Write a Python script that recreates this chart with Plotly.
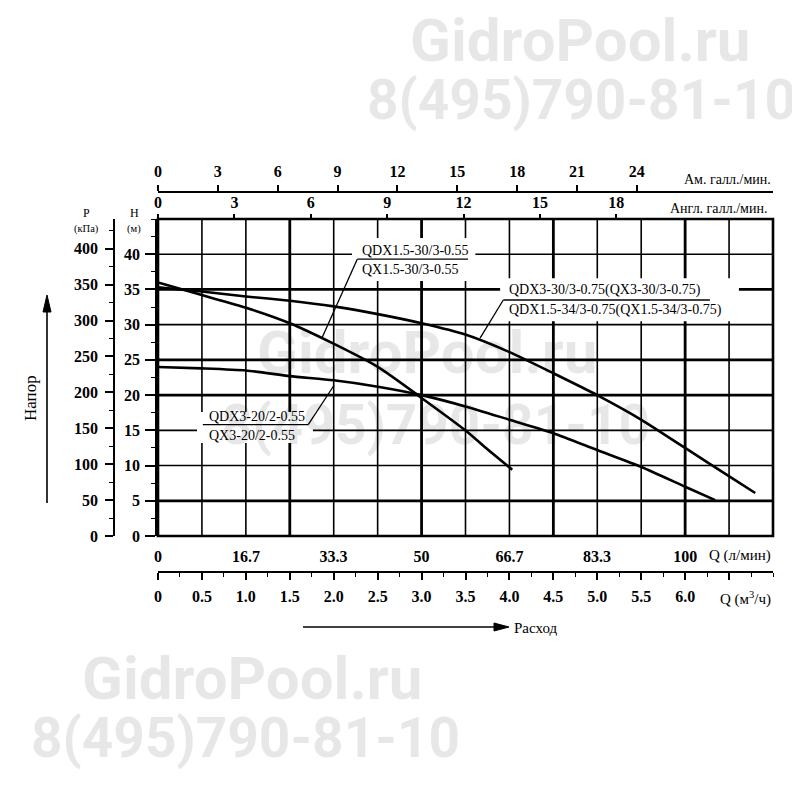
import plotly.graph_objects as go

# ---------------- data ----------------
# flow Q in l/min, head H in m
q_a = [0, 8.3, 16.7, 25, 33.3, 41.7, 50, 58.3, 62.5, 67.2]
h_a = [36.0, 34.2, 32.4, 30.2, 27.3, 24.0, 19.6, 15.0, 12.3, 9.4]
name_a = ["QDX1.5-30/3-0.55", "QX1.5-30/3-0.55"]

q_b = [0, 8.3, 16.7, 25, 33.3, 41.7, 50, 58.3, 66.7, 75, 83.3, 91.7, 100, 108.3, 113.3]
h_b = [35.3, 34.7, 34.0, 33.4, 32.6, 31.5, 30.2, 28.6, 26.1, 23.1, 20.0, 16.5, 12.5, 8.5, 6.1]
name_b = ["QDX3-30/3-0.75(QX3-30/3-0.75)", "QDX1.5-34/3-0.75(QX1.5-34/3-0.75)"]

q_c = [0, 8.3, 16.7, 25, 33.3, 41.7, 50, 58.3, 66.7, 75, 83.3, 91.7, 100, 105.7]
h_c = [24.0, 23.8, 23.5, 22.7, 22.1, 21.2, 20.0, 18.4, 16.5, 14.6, 12.2, 9.8, 7.0, 5.1]
name_c = ["QDX3-20/2-0.55", "QX3-20/2-0.55"]

lpm_ticks = [0, 16.7, 33.3, 50, 66.7, 83.3, 100]
lpm_labels = ["0", "16.7", "33.3", "50", "66.7", "83.3", "100"]
m3h_ticks = [0, 0.5, 1.0, 1.5, 2.0, 2.5, 3.0, 3.5, 4.0, 4.5, 5.0, 5.5, 6.0, 6.5]
m3h_labels = ["0", "0.5", "1.0", "1.5", "2.0", "2.5", "3.0", "3.5", "4.0", "4.5",
              "5.0", "5.5", "6.0", ""]
us_ticks = [0, 3, 6, 9, 12, 15, 18, 21, 24]
imp_ticks = [0, 3, 6, 9, 12, 15, 18]
h_ticks = [0, 5, 10, 15, 20, 25, 30, 35, 40]
p_ticks = [0, 50, 100, 150, 200, 250, 300, 350, 400]

Q_MAX_M3H = 7.0
LPM_PER_M3H = 1000 / 60
Q_MAX = Q_MAX_M3H * LPM_PER_M3H
H_MAX = 45
KPA_PER_M = 9.81
LPM_PER_USGAL = 3.785
LPM_PER_IMPGAL = 4.83

# ---------------- geometry helpers (page pixels -> paper) ----------------
OFF = 8  # page body margin
PL, PR, PT, PB = 100, 773, 150, 610   # in page pixels


def px(x):
    return (x - PL) / (PR - PL)


def py(y):
    return (PB - y) / (PB - PT)


SERIF = "Liberation Serif, Times New Roman, serif"
TICKFONT = dict(family=SERIF, size=16, color="black", weight="bold")
LBLFONT = dict(family=SERIF, size=14, color="black")

fig = go.Figure()
for q, h in [(q_a, h_a), (q_b, h_b), (q_c, h_c)]:
    fig.add_trace(go.Scatter(x=q, y=h, mode="lines",
                             line=dict(color="black", width=2.6, shape="spline", smoothing=0.6),
                             hoverinfo="skip", showlegend=False))

# invisible anchors so every extra axis is drawn
for xa, ya in [("x2", "y"), ("x3", "y"), ("x4", "y"), ("x", "y2")]:
    fig.add_trace(go.Scatter(x=[0], y=[0], xaxis=xa, yaxis=ya, mode="markers",
                             marker=dict(opacity=0), hoverinfo="skip", showlegend=False))

xd0 = px(158)
yd0, yd1 = py(536), py(219)

fig.update_layout(
    width=800, height=800,
    margin=dict(l=PL - OFF, r=800 - PR + OFF, t=PT - OFF, b=800 - PB + OFF),
    paper_bgcolor="white", plot_bgcolor="white",
    showlegend=False,
    xaxis=dict(domain=[xd0, 1], range=[0, Q_MAX], anchor="y",
               tickvals=lpm_ticks, ticktext=lpm_labels, ticks="",
               showline=False, showgrid=False, zeroline=False,
               tickfont=TICKFONT, ticklabelstandoff=9),
    xaxis2=dict(overlaying="x", anchor="free", position=py(192), side="top",
                range=[0, Q_MAX / LPM_PER_USGAL], tickvals=us_ticks,
                ticks="outside", ticklen=6, tickwidth=1.5, tickcolor="black",
                showline=True, linewidth=1.6, linecolor="black",
                showgrid=False, zeroline=False, tickfont=TICKFONT, ticklabelstandoff=2),
    xaxis3=dict(overlaying="x", anchor="y", side="top",
                range=[0, Q_MAX / LPM_PER_IMPGAL], tickvals=imp_ticks,
                ticks="outside", ticklen=4, tickwidth=1.5, tickcolor="black",
                showline=False, showgrid=False, zeroline=False,
                tickfont=TICKFONT, ticklabelstandoff=0),
    xaxis4=dict(overlaying="x", anchor="free", position=py(572), side="bottom",
                range=[0, Q_MAX_M3H], tickvals=m3h_ticks, ticktext=m3h_labels,
                ticks="outside", ticklen=7, tickwidth=1.6, tickcolor="black",
                minor=dict(tick0=0, dtick=0.25, ticks="outside", ticklen=4,
                           tickwidth=1.3, tickcolor="black", showgrid=False),
                showline=True, linewidth=1.6, linecolor="black",
                showgrid=False, zeroline=False, tickfont=TICKFONT, ticklabelstandoff=3),
    yaxis=dict(domain=[yd0, yd1], range=[0, H_MAX], anchor="x",
               tickvals=h_ticks, ticks="outside", ticklen=10, tickwidth=1.6,
               tickcolor="black",
               minor=dict(tick0=0, dtick=2.5, ticks="outside", ticklen=4,
                          tickwidth=1.3, tickcolor="black", showgrid=False),
               showline=True, linewidth=2.5, linecolor="black",
               showgrid=False, zeroline=False, tickfont=TICKFONT, ticklabelstandoff=2),
    yaxis2=dict(overlaying="y", anchor="free", position=px(114), side="left",
                range=[0, H_MAX * KPA_PER_M], tickvals=p_ticks,
                ticks="outside", ticklen=8, tickwidth=1.6, tickcolor="black",
                minor=dict(tick0=0, dtick=25, ticks="outside", ticklen=4,
                           tickwidth=1.3, tickcolor="black", showgrid=False),
                showline=True, linewidth=1.6, linecolor="black",
                showgrid=False, zeroline=False, tickfont=TICKFONT, ticklabelstandoff=4),
)

shapes = []
# grid lines (every 0.5 m3/h and every 5 m; heavier every 1.5 m3/h)
grid_m3h = [v * 0.5 for v in range(1, 14)]
for g in grid_m3h:
    thick = abs(g / 1.5 - round(g / 1.5)) < 1e-6
    shapes.append(dict(type="line", xref="x", yref="y domain",
                       x0=g * LPM_PER_M3H, x1=g * LPM_PER_M3H, y0=0, y1=1,
                       line=dict(color="black", width=2.8 if thick else 1.6), layer="below"))
grid_h = [5, 10, 15, 20, 25, 30, 35, 40]
thick_h = [5, 20, 25, 35]
for g in grid_h:
    shapes.append(dict(type="line", xref="x domain", yref="y",
                       x0=0, x1=1, y0=g, y1=g,
                       line=dict(color="black", width=2.8 if g in thick_h else 1.6),
                       layer="below"))
# frame
shapes.append(dict(type="rect", xref="x domain", yref="y domain", x0=0, x1=1, y0=0, y1=1,
                   line=dict(color="black", width=2.6), layer="above"))

annotations = []

# curve labels: white box, two text lines, underline and leader line
labels = [
    ((36.8, 60.2, 36.2, 42.3), 38.3, 40.6, 37.8, (37.8, 58.8, 39.3), (31.1, 28.1), name_a, "left"),
    ((64.9, 110.2, 30.5, 36.6), 66.2, 34.9, 32.1, (65.5, 104.7, 33.5), (61.1, 28.1), name_b, "left"),
    ((7.4, 29.4, 13.2, 17.6), 9.3, 16.9, 14.3, (8.5, 28.5, 15.8), (33.4, 21.4), name_c, "right"),
]
for box, tx, ty1, ty2, ul, lead, texts, lead_side in labels:
    shapes.append(dict(type="rect", xref="x", yref="y", x0=box[0], x1=box[1],
                       y0=box[2], y1=box[3], fillcolor="white",
                       line=dict(width=0), layer="above"))
    shapes.append(dict(type="line", xref="x", yref="y", x0=ul[0], x1=ul[1], y0=ul[2], y1=ul[2],
                       line=dict(color="black", width=1.3), layer="above"))
    start = ul[0] if lead_side == "left" else ul[1]
    shapes.append(dict(type="line", xref="x", yref="y", x0=start, x1=lead[0], y0=ul[2], y1=lead[1],
                       line=dict(color="black", width=1.3), layer="above"))
    for t, yy in [(texts[0], ty1), (texts[1], ty2)]:
        annotations.append(dict(xref="x", yref="y", x=tx, y=yy, text=t, showarrow=False,
                                xanchor="left", yanchor="middle", font=LBLFONT))

# arrows (Расход to the right, Напор upward)
shapes.append(dict(type="line", xref="paper", yref="paper", x0=px(303), x1=px(496),
                   y0=py(627), y1=py(627), line=dict(color="black", width=1.6)))
shapes.append(dict(type="path", xref="paper", yref="paper",
                   path=f"M {px(509)} {py(627)} L {px(494)} {py(623)} L {px(494)} {py(631)} Z",
                   fillcolor="black", line=dict(color="black", width=1)))
shapes.append(dict(type="line", xref="paper", yref="paper", x0=px(47), x1=px(47),
                   y0=py(503), y1=py(310), line=dict(color="black", width=1.6)))
shapes.append(dict(type="path", xref="paper", yref="paper",
                   path=f"M {px(47)} {py(295)} L {px(43)} {py(312)} L {px(51)} {py(312)} Z",
                   fillcolor="black", line=dict(color="black", width=1)))

# axis titles
small = dict(family=SERIF, size=14, color="black")
annotations += [
    dict(xref="paper", yref="paper", x=px(773), y=py(180), text="Ам. галл./мин.",
         showarrow=False, xanchor="right", yanchor="middle", font=small),
    dict(xref="paper", yref="paper", x=px(769), y=py(208), text="Англ. галл./мин.",
         showarrow=False, xanchor="right", yanchor="middle", font=small),
    dict(xref="paper", yref="paper", x=px(773), y=py(555), text="Q (л/мин)",
         showarrow=False, xanchor="right", yanchor="middle", font=dict(family=SERIF, size=15, color="black")),
    dict(xref="paper", yref="paper", x=px(773), y=py(598), text="Q (м<sup>3</sup>/ч)",
         showarrow=False, xanchor="right", yanchor="middle", font=dict(family=SERIF, size=15, color="black")),
    dict(xref="paper", yref="paper", x=px(86), y=py(213), text="P",
         showarrow=False, xanchor="center", yanchor="middle", font=dict(family=SERIF, size=12, color="black")),
    dict(xref="paper", yref="paper", x=px(86), y=py(229), text="(кПа)",
         showarrow=False, xanchor="center", yanchor="middle", font=dict(family=SERIF, size=10.5, color="black")),
    dict(xref="paper", yref="paper", x=px(134), y=py(213), text="H",
         showarrow=False, xanchor="center", yanchor="middle", font=dict(family=SERIF, size=12, color="black")),
    dict(xref="paper", yref="paper", x=px(134), y=py(229), text="(м)",
         showarrow=False, xanchor="center", yanchor="middle", font=dict(family=SERIF, size=10.5, color="black")),
    dict(xref="paper", yref="paper", x=px(512), y=py(628), text="Расход",
         showarrow=False, xanchor="left", yanchor="middle", font=dict(family=SERIF, size=15, color="black")),
    dict(xref="paper", yref="paper", x=px(30), y=py(398), text="Напор", textangle=-90,
         showarrow=False, xanchor="center", yanchor="middle", font=dict(family=SERIF, size=17, color="black")),
]

# watermarks
WM_FAMILY = "Roboto, DejaVu Sans, sans-serif"
for text, cx, cy, size in [("GidroPool.ru", 580, 40, 60), ("8(495)790-81-10", 581, 100, 55),
                           ("GidroPool.ru", 427, 352, 60), ("8(495)790-81-10", 435, 425, 55),
                           ("GidroPool.ru", 252, 678, 60), ("8(495)790-81-10", 245, 738, 55)]:
    annotations.append(dict(xref="paper", yref="paper", x=px(cx), y=py(cy), text=text,
                            showarrow=False, xanchor="center", yanchor="middle",
                            font=dict(family=WM_FAMILY, size=size,
                                      color="rgba(0,0,0,0.095)", weight="bold")))

fig.update_layout(shapes=shapes, annotations=annotations)
fig.write_html("out.html")
